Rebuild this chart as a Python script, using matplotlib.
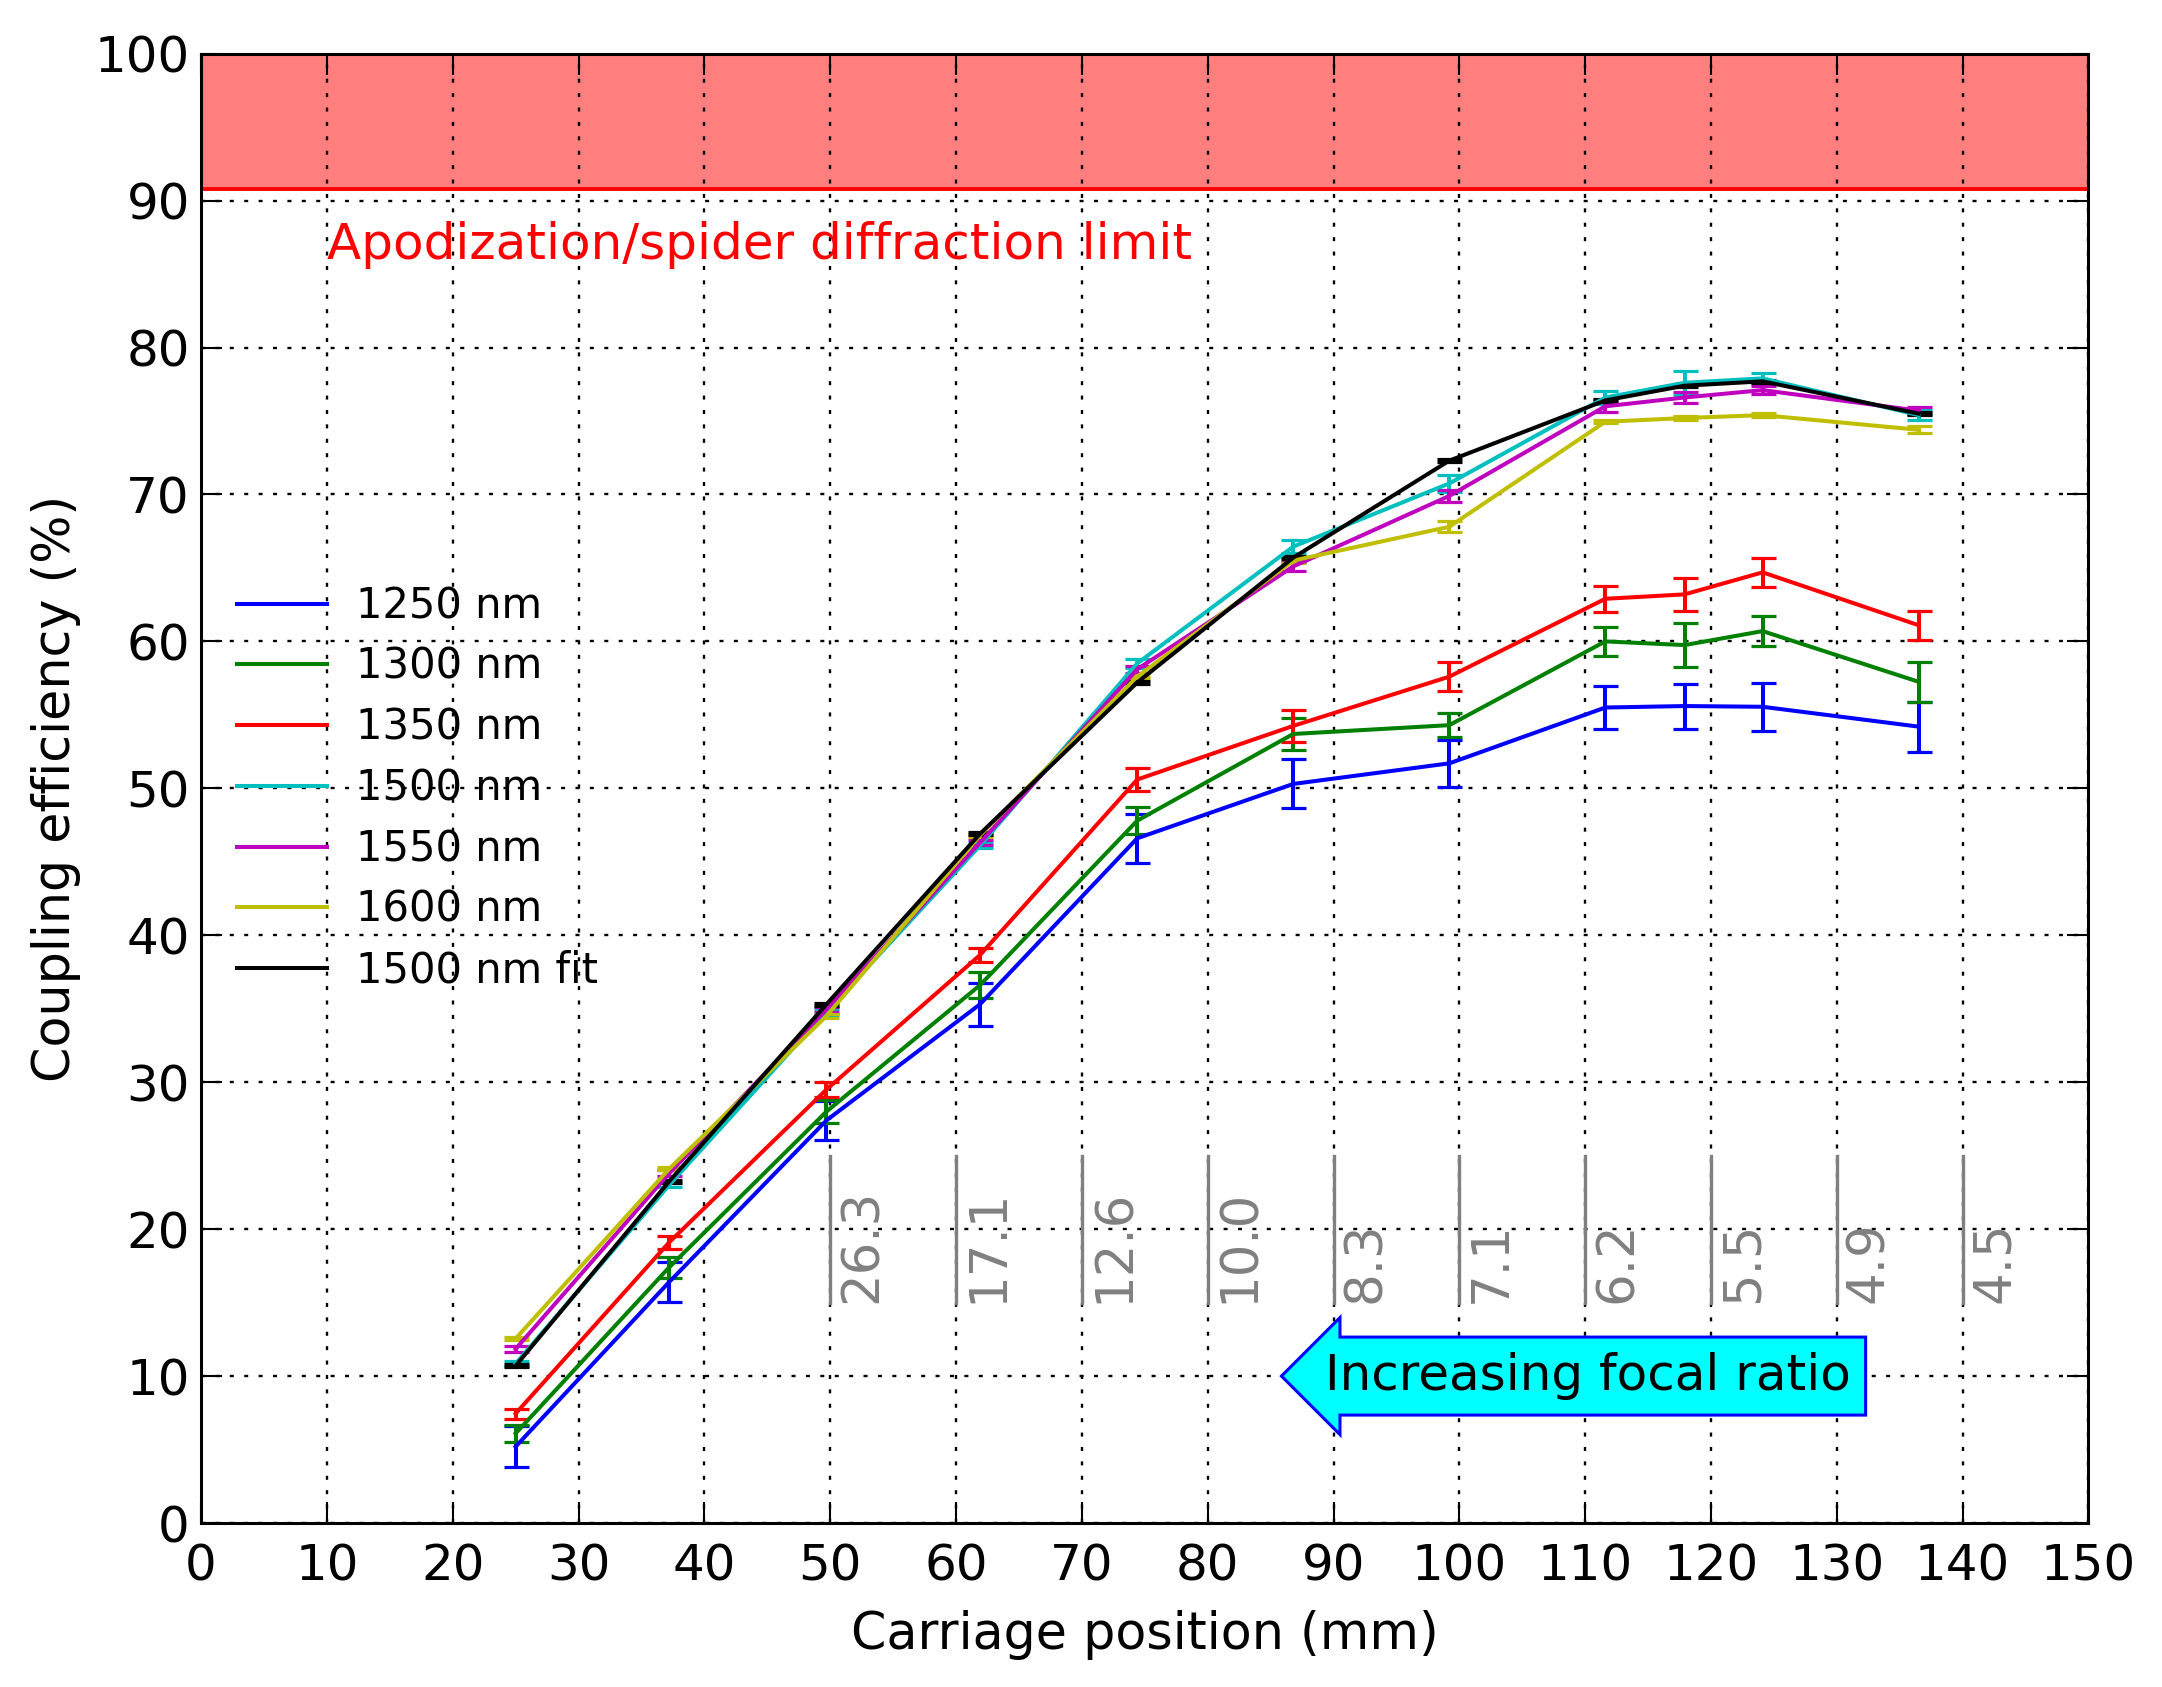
import numpy as np
import matplotlib
matplotlib.use("Agg")
import matplotlib.pyplot as plt
from matplotlib.lines import Line2D

# carriage positions (mm)
pos = [25.0, 37.2, 49.7, 61.9, 74.4, 86.8, 99.2, 111.6, 117.9, 124.1, 136.5]

eff_1250 = [5.2, 16.4, 27.4, 35.3, 46.6, 50.3, 51.7, 55.5, 55.6, 55.55, 54.2]
err_1250 = [1.4, 1.36, 1.3, 1.45, 1.65, 1.67, 1.6, 1.44, 1.53, 1.65, 1.7]
eff_1300 = [6.1, 17.4, 28.0, 36.6, 47.8, 53.7, 54.3, 60.0, 59.75, 60.7, 57.25]
err_1300 = [0.57, 0.73, 0.8, 0.87, 0.9, 1.1, 0.83, 1.0, 1.5, 1.0, 1.36]
eff_1350 = [7.45, 19.1, 29.5, 38.65, 50.6, 54.25, 57.6, 62.9, 63.2, 64.7, 61.1]
err_1350 = [0.34, 0.45, 0.53, 0.5, 0.77, 1.1, 1.0, 0.9, 1.14, 0.97, 1.0]
eff_1500 = [10.85, 23.0, 34.8, 46.1, 58.5, 66.45, 70.75, 76.6, 77.6, 77.9, 75.4]
err_1500 = [0.15, 0.15, 0.2, 0.15, 0.3, 0.42, 0.58, 0.44, 0.8, 0.34, 0.34]
eff_1550 = [11.85, 23.8, 34.95, 46.3, 58.1, 65.1, 69.9, 76.0, 76.6, 77.1, 75.7]
err_1550 = [0.2, 0.2, 0.2, 0.15, 0.25, 0.32, 0.4, 0.4, 0.36, 0.28, 0.25]
eff_1600 = [12.55, 24.1, 34.5, 46.8, 57.6, 65.5, 67.8, 74.95, 75.2, 75.4, 74.4]
err_1600 = [0.1, 0.1, 0.12, 0.1, 0.12, 0.15, 0.38, 0.1, 0.15, 0.15, 0.23]
eff_fit = [10.7, 23.25, 35.3, 46.9, 57.2, 65.7, 72.3, 76.4, 77.4, 77.7, 75.5]
err_fit = [0.1, 0.1, 0.1, 0.1, 0.1, 0.1, 0.1, 0.1, 0.1, 0.1, 0.1]

labels = ["1250 nm", "1300 nm", "1350 nm", "1500 nm", "1550 nm", "1600 nm", "1500 nm fit"]
colors = ["b", "g", "r", "c", "m", "y", "k"]

# focal ratio markers
fr_pos = [50, 60, 70, 80, 90, 100, 110, 120, 130, 140]
fr_text = ["26.3", "17.1", "12.6", "10.0", "8.3", "7.1", "6.2", "5.5", "4.9", "4.5"]

limit = 90.8

plt.rcParams["font.family"] = "DejaVu Sans"
plt.rcParams["xtick.direction"] = "in"
plt.rcParams["ytick.direction"] = "in"

fig = plt.figure(figsize=(21.62, 16.87), dpi=100)
ax = fig.add_axes([0.093, 0.0972, 0.873, 0.871])

series = [(eff_1250, err_1250), (eff_1300, err_1300), (eff_1350, err_1350),
          (eff_1500, err_1500), (eff_1550, err_1550), (eff_1600, err_1600),
          (eff_fit, err_fit)]
handles = []
for (y, e), lab, c in zip(series, labels, colors):
    ax.errorbar(pos, y, yerr=e, color=c, lw=2.9, elinewidth=2.9,
                capsize=9, capthick=2.3)
    handles.append(Line2D([], [], color=c, lw=2.9, label=lab))

ax.axhspan(limit, 100, color="r", alpha=0.5, lw=0)
ax.axhline(limit, color="r", lw=2.8)
ax.text(10, 86, "Apodization/spider diffraction limit", color="r", fontsize=36)

for x, t in zip(fr_pos, fr_text):
    ax.plot([x, x], [15, 25], color="gray", lw=2.4)
    ax.text(x + 0.6, 15, t, rotation=90, ha="left", va="bottom",
            color="gray", fontsize=37)

ax.text(110.2, 10, "Increasing focal ratio", ha="center", va="center", fontsize=36,
        bbox=dict(boxstyle="larrow,pad=0.3", fc="cyan", ec="b", lw=2.2))

ax.set_xlim(0, 150)
ax.set_ylim(0, 100)
ax.set_xticks(np.arange(0, 151, 10))
ax.set_yticks(np.arange(0, 101, 10))
ax.grid(True, color="k", linestyle=(0, (1.7, 4.4)), lw=1.7)
ax.tick_params(labelsize=36, length=15, width=1.5, top=True, right=True)
ax.tick_params(axis="x", pad=14)
ax.tick_params(axis="y", pad=8)
for s in ax.spines.values():
    s.set_linewidth(2.2)

ax.set_xlabel("Carriage position (mm)", fontsize=36.5, labelpad=14)
ax.set_ylabel("Coupling efficiency (%)", fontsize=36.5, labelpad=10)

ax.legend(handles=handles, loc="center left", bbox_to_anchor=(0.0, 0.5),
          frameon=False, fontsize=30, handlelength=2.15, handletextpad=0.7,
          labelspacing=0.45, borderaxespad=0, borderpad=0.87)

fig.savefig("out.png", dpi=100)
